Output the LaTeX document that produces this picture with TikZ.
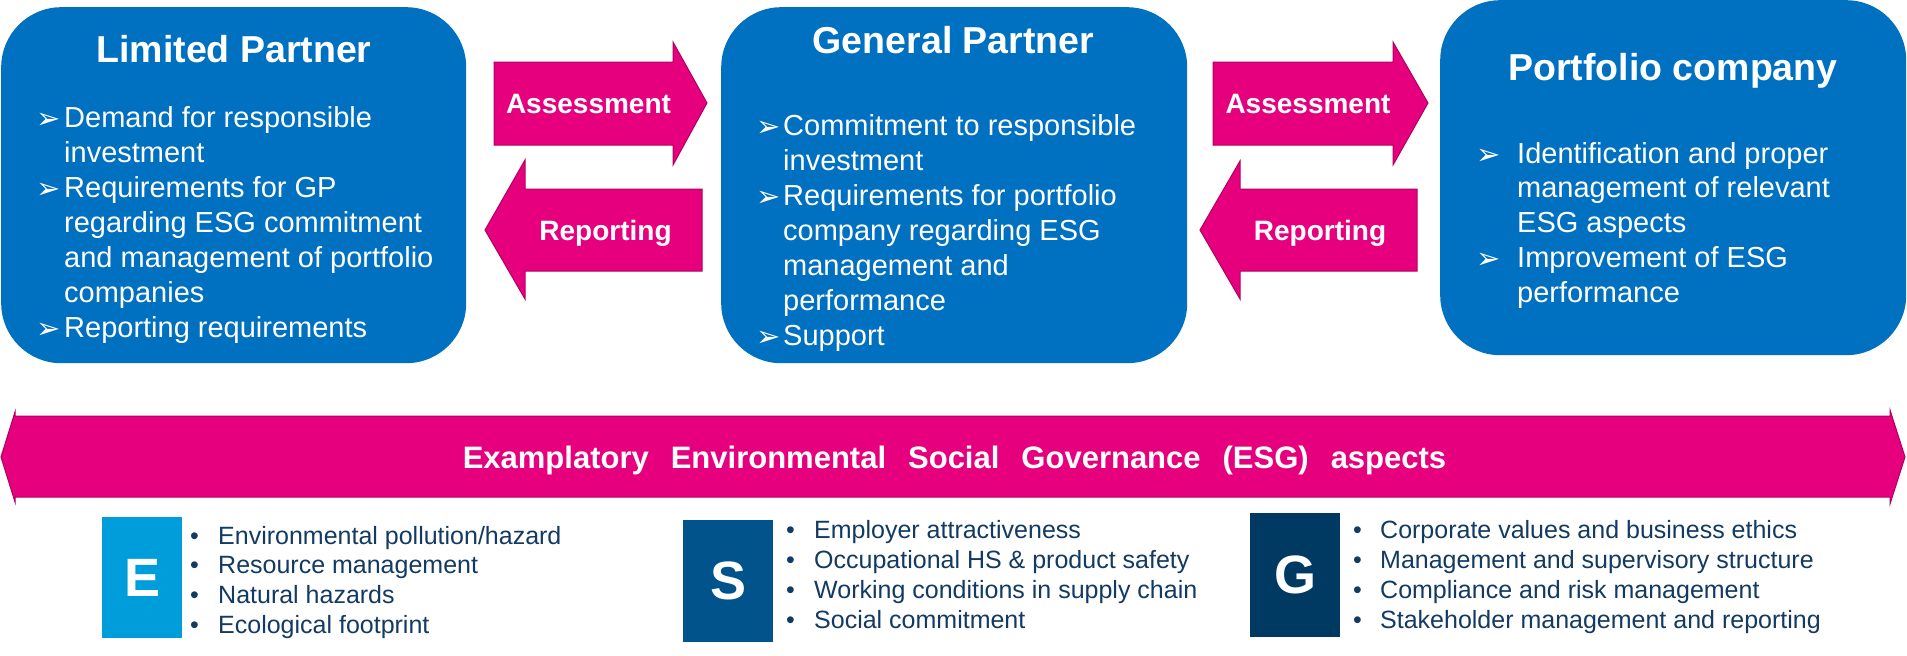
\documentclass[tikz,border=0pt]{standalone}
\usepackage{fontspec}
\setmainfont{Liberation Sans}
\newfontfamily\djv{DejaVu Sans}
\definecolor{boxblue}{HTML}{0070C0}
\definecolor{pinkfill}{HTML}{E6007E}
\definecolor{pinkedge}{HTML}{B0005F}
\definecolor{eblue}{HTML}{009DDB}
\definecolor{sblue}{HTML}{00538B}
\definecolor{gblue}{HTML}{003A63}
\definecolor{navytext}{HTML}{123A62}
\begin{document}
\begin{tikzpicture}[x=1pt,y=-1pt,
  mainbox/.style={fill=boxblue, rounded corners=60pt, inner sep=0, anchor=north west},
  blockarrow/.style={fill=pinkfill, draw=pinkedge, line width=1pt},
  titletext/.style={text=white, font=\fontsize{37.5}{40}\selectfont\bfseries, anchor=base, inner sep=0},
  arrowtext/.style={text=white, font=\fontsize{28}{30}\selectfont\bfseries, anchor=base, inner sep=0},
  linetext/.style={text=white, font=\fontsize{29}{35}\selectfont, anchor=base west, inner sep=0},
  marktext/.style={text=white, font=\djv\fontsize{29}{30}\selectfont, anchor=base west, inner sep=0},
  esgbox/.style={inner sep=0, anchor=north west},
  esgletter/.style={text=white, font=\fontsize{54}{54}\selectfont\bfseries, inner sep=0},
  esgline/.style={text=navytext, font=\fontsize{25}{30}\selectfont, anchor=base west, inner sep=0},
  esgdot/.style={text=navytext, font=\fontsize{25}{30}\selectfont, anchor=base west, inner sep=0}]
\useasboundingbox (0,0) rectangle (1907,656);

% ---------- main boxes ----------
\node[mainbox, minimum width=465pt, minimum height=356pt] (lp) at (1,7) {};
\node[mainbox, minimum width=466pt, minimum height=356pt] (gp) at (721,7) {};
\node[mainbox, minimum width=466pt, minimum height=355pt] (pc) at (1440,0) {};

\node[titletext] (lpt) at (234,62) {Limited Partner};
\node[titletext] (gpt) at (953.5,53) {General Partner};
\node[titletext] (pct) at (1673,80) {Portfolio company};

% ---------- block arrows ----------
\draw[blockarrow] (494,62) -- (673,62) -- (673,42) -- (707,103) -- (673,165) -- (673,145) -- (494,145) -- cycle;
\draw[blockarrow] (485,230) -- (525,160) -- (525,189) -- (702,189) -- (702,271) -- (525,271) -- (525,299) -- cycle;
\draw[blockarrow] (1213,62) -- (1393,62) -- (1393,42) -- (1428,103) -- (1393,165) -- (1393,145) -- (1213,145) -- cycle;
\draw[blockarrow] (1200,230) -- (1240,161) -- (1240,189) -- (1417,189) -- (1417,271) -- (1240,271) -- (1240,299) -- cycle;

\node[arrowtext] (as1) at (588.5,113) {Assessment};
\node[arrowtext] (re1) at (605.5,240) {Reporting};
\node[arrowtext] (as2) at (1308,113) {Assessment};
\node[arrowtext] (re2) at (1320,240) {Reporting};

% ---------- Limited Partner list ----------
\foreach \t [count=\i] in {Demand for responsible, investment, Requirements for GP,
  regarding ESG commitment, and management of portfolio, companies, Reporting requirements}
  \node[linetext] (lpl\i) at (64,{127+35.1*(\i-1)}) {\t};
\foreach \i in {1,3,7}
  \node[marktext] (lpm\i) at (36,{128+35.1*(\i-1)}) {➢};

% ---------- General Partner list ----------
\foreach \t [count=\i] in {Commitment to responsible, investment, Requirements for portfolio,
  company regarding ESG, management and, performance, Support}
  \node[linetext] (gpl\i) at (783,{135+35*(\i-1)}) {\t};
\foreach \i in {1,3,7}
  \node[marktext] (gpm\i) at (756,{136+35*(\i-1)}) {➢};

% ---------- Portfolio company list ----------
\foreach \t [count=\i] in {Identification and proper, management of relevant, ESG aspects,
  Improvement of ESG, performance}
  \node[linetext] (pcl\i) at (1517,{163+34.8*(\i-1)}) {\t};
\foreach \i in {1,4}
  \node[marktext] (pcm\i) at (1476,{164+34.8*(\i-1)}) {➢};

% ---------- ESG band ----------
\draw[blockarrow] (1,457) -- (15,412) -- (15,416) -- (1890,416) -- (1890,410) -- (1905,457)
  -- (1890,504) -- (1890,497) -- (15,497) -- (15,502) -- cycle;
\node[text=white, font=\fontsize{31}{33}\selectfont\bfseries, anchor=base, inner sep=0] (esgt) at (954.5,468)
  {\spaceskip=22pt Examplatory Environmental Social Governance (ESG) aspects};

% ---------- E / S / G ----------
\node[esgbox, fill=eblue, minimum width=80pt, minimum height=121pt] (eb) at (102,517) {};
\node[esgbox, fill=sblue, minimum width=90pt, minimum height=122pt] (sb) at (683,520) {};
\node[esgbox, fill=gblue, minimum width=90pt, minimum height=124pt] (gb) at (1250,513) {};
\node[esgletter] (el) at (eb.center) {E};
\node[esgletter] (sl) at (sb.center) {S};
\node[esgletter] (gl) at (gb.center) {G};

\foreach \t [count=\i] in {Environmental pollution/hazard, Resource management, Natural hazards, Ecological footprint} {
  \node[esgdot] (ed\i) at (190,{544+29.7*(\i-1)}) {\textbullet};
  \node[esgline] (el\i) at (218,{544+29.7*(\i-1)}) {\t};
}
\foreach \t [count=\i] in {Employer attractiveness, Occupational HS \& product safety, Working conditions in supply chain, Social commitment} {
  \node[esgdot] (sd\i) at (786,{538+30*(\i-1)}) {\textbullet};
  \node[esgline] (sl\i) at (814,{538+30*(\i-1)}) {\t};
}
\foreach \t [count=\i] in {Corporate values and business ethics, Management and supervisory structure, Compliance and risk management, Stakeholder management and reporting} {
  \node[esgdot] (gd\i) at (1353,{538+30*(\i-1)}) {\textbullet};
  \node[esgline] (gl\i) at (1380,{538+30*(\i-1)}) {\t};
}
\end{tikzpicture}
\end{document}
